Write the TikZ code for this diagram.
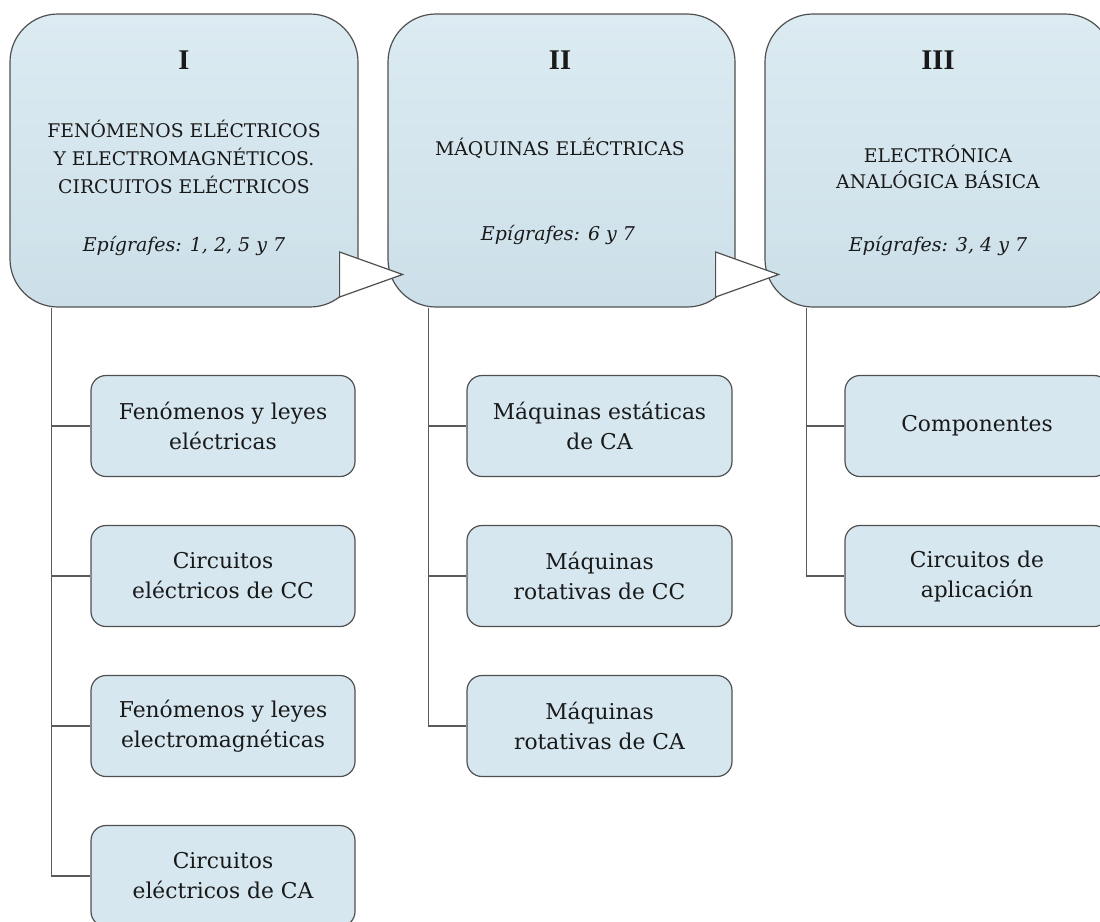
\documentclass[tikz,border=0pt]{standalone}
\usepackage{fontspec}
\setmainfont{DejaVu Serif}
\newfontfamily\numfont{Liberation Serif}
\usetikzlibrary{calc}
\definecolor{boxtop}{RGB}{220,235,242}
\definecolor{boxbot}{RGB}{204,223,232}
\definecolor{subfill}{RGB}{214,231,239}
\definecolor{edge}{RGB}{80,80,80}
\definecolor{linecol}{RGB}{90,90,90}
\definecolor{txt}{RGB}{25,25,25}
\tikzset{
  bigbox/.style={draw=edge, line width=1.2pt, rounded corners=48pt, top color=boxtop, bottom color=boxbot, minimum height=293pt, inner sep=0pt},
  subbox/.style={draw=edge, line width=1.2pt, rounded corners=15pt, fill=subfill, minimum width=264pt, minimum height=101pt, inner sep=0pt, align=center, text=txt, font=\fontsize{21.8pt}{30pt}\selectfont},
  numtxt/.style={anchor=base, inner sep=0pt, text=txt, font=\numfont\bfseries\fontsize{28.5pt}{30pt}\selectfont},
  titletxt/.style={anchor=base, inner sep=0pt, align=center, text=txt, font=\fontsize{18.8pt}{28pt}\selectfont},
  epitxt/.style={anchor=base, inner sep=0pt, text=txt, font=\itshape\fontsize{19pt}{28pt}\selectfont},
  tri/.style={draw=edge, line width=1.2pt, fill=white, line join=miter},
  conn/.style={draw=linecol, line width=1.2pt}
}
\begin{document}
\begin{tikzpicture}[x=1pt,y=-1pt]
\useasboundingbox (0,0) rectangle (1100,921);
% main boxes
\node[bigbox, minimum width=348pt] (b1) at (184,160.5) {};
\node[bigbox, minimum width=347pt] (b2) at (561.5,160.5) {};
\node[bigbox, minimum width=348pt] (b3) at (939,160.5) {};
% arrows between main boxes
\draw[tri] ($(b1.east)+(-19,91.5)$) -- ($(b1.east)+(44,114)$) -- ($(b1.east)+(-19,136.5)$) -- cycle;
\draw[tri] ($(b2.east)+(-20,91.5)$) -- ($(b2.east)+(43,114)$) -- ($(b2.east)+(-20,136.5)$) -- cycle;
% texts of box I
\node[numtxt] (n1) at (184,69) {I};
\node[titletxt] (t1) at (184,193) {FENÓMENOS ELÉCTRICOS\\Y ELECTROMAGNÉTICOS.\\CIRCUITOS ELÉCTRICOS};
\node[epitxt] (e1) at (184,251) {Epígrafes: 1, 2, 5 y 7};
% texts of box II
\node[numtxt] (n2) at (560,69) {II};
\node[titletxt] (t2) at (560,155) {MÁQUINAS ELÉCTRICAS};
\node[epitxt] (e2) at (558,240) {Epígrafes: 6 y 7};
% texts of box III
\node[numtxt] (n3) at (938,69) {III};
\node[titletxt, font=\fontsize{18.8pt}{26pt}\selectfont] (t3) at (938,188) {ELECTRÓNICA\\ANALÓGICA BÁSICA};
\node[epitxt] (e3) at (938,251) {Epígrafes: 3, 4 y 7};
% sub boxes column I
\node[subbox] (s11) at (223,426) {Fenómenos y leyes\\eléctricas};
\node[subbox] (s12) at (223,576) {Circuitos\\eléctricos de CC};
\node[subbox] (s13) at (223,726) {Fenómenos y leyes\\electromagnéticas};
\node[subbox] (s14) at (223,876) {Circuitos\\eléctricos de CA};
% sub boxes column II
\node[subbox, minimum width=265pt] (s21) at (599.5,426) {Máquinas estáticas\\de CA};
\node[subbox, minimum width=265pt] (s22) at (599.5,576) {Máquinas\\rotativas de CC};
\node[subbox, minimum width=265pt] (s23) at (599.5,726) {Máquinas\\rotativas de CA};
% sub boxes column III
\node[subbox] (s31) at (977,426) {Componentes};
\node[subbox] (s32) at (977,576) {Circuitos de\\aplicación};
% connector roots
\coordinate (r1) at ($(b1.south west)+(42,0)$);
\coordinate (r2) at ($(b2.south west)+(41,0)$);
\coordinate (r3) at ($(b3.south west)+(42,0)$);
% connectors
\draw[conn] (r1) |- (s14.west);
\draw[conn] (r1 |- s11.west) -- (s11.west);
\draw[conn] (r1 |- s12.west) -- (s12.west);
\draw[conn] (r1 |- s13.west) -- (s13.west);
\draw[conn] (r2) |- (s23.west);
\draw[conn] (r2 |- s21.west) -- (s21.west);
\draw[conn] (r2 |- s22.west) -- (s22.west);
\draw[conn] (r3) |- (s32.west);
\draw[conn] (r3 |- s31.west) -- (s31.west);
\end{tikzpicture}
\end{document}
